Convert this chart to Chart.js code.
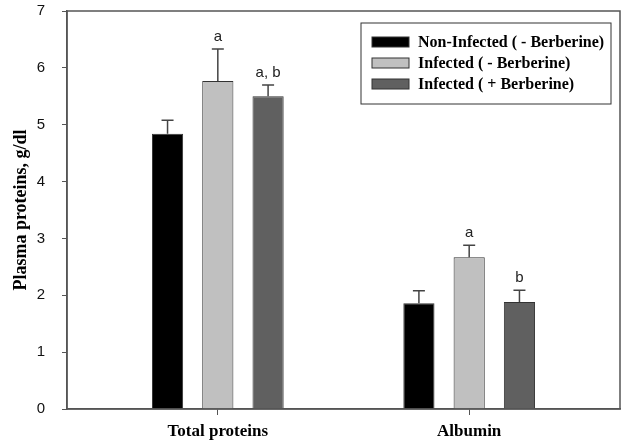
<!DOCTYPE html>
<html>
<head>
<meta charset="utf-8">
<script src="https://cdn.jsdelivr.net/npm/chart.js@4.4.1/dist/chart.umd.min.js"></script>
<style>
  html, body { margin: 0; padding: 0; background: #fff; }
  #wrap { width: 624px; height: 445px; }
</style>
</head>
<body>
<div id="wrap"><canvas id="chart"></canvas></div>
<script>
// data
const categories = ['Total proteins', 'Albumin'];
const seriesNames = ['Non-Infected ( - Berberine)', 'Infected ( - Berberine)', 'Infected ( + Berberine)'];
const nonInfected = [4.84, 1.86];
const nonInfectedErr = [0.24, 0.22];
const infected = [5.77, 2.67];
const infectedErr = [0.56, 0.21];
const treated = [5.50, 1.88];
const treatedErr = [0.20, 0.21];
const nonInfectedSig = ['', ''];
const infectedSig = ['a', 'a'];
const treatedSig = ['a, b', 'b'];
const yTicks = [0, 1, 2, 3, 4, 5, 6, 7];

const serif = '"Liberation Serif", "Times New Roman", serif';
const sans = '"Liberation Sans", Arial, sans-serif';

function toPoints(vals) {
    return vals.map((v, i) => ({x: i, y: v}));
}

const errPlugin = {
    id: 'errBars',
    afterDatasetsDraw(chart) {
        const ctx = chart.ctx;
        const yScale = chart.scales.y;
        chart.data.datasets.forEach((ds, di) => {
            const meta = chart.getDatasetMeta(di);
            meta.data.forEach((bar, i) => {
                const top = yScale.getPixelForValue(ds.data[i].y + ds.err[i]);
                ctx.save();
                ctx.strokeStyle = '#444';
                ctx.lineWidth = 1.5;
                ctx.beginPath();
                ctx.moveTo(bar.x, bar.y);
                ctx.lineTo(bar.x, top);
                ctx.moveTo(bar.x - 6, top);
                ctx.lineTo(bar.x + 6, top);
                ctx.stroke();
                if (ds.sig[i]) {
                    ctx.fillStyle = '#222';
                    ctx.font = '15px ' + sans;
                    ctx.textAlign = 'center';
                    ctx.textBaseline = 'alphabetic';
                    ctx.fillText(ds.sig[i], bar.x, top - 8);
                }
                ctx.restore();
            });
        });
    }
};

const framePlugin = {
    id: 'frame',
    afterDraw(chart) {
        const ctx = chart.ctx;
        const a = chart.chartArea;
        ctx.save();
        ctx.strokeStyle = '#555';
        ctx.lineWidth = 1.5;
        ctx.strokeRect(a.left, a.top, a.right - a.left, a.bottom - a.top);

        // legend box
        const bx = a.right - 9, by = a.top + 12;
        const left = bx - 250;
        ctx.lineWidth = 1;
        ctx.strokeStyle = '#333';
        ctx.strokeRect(left, by, 250, 81);
        ctx.font = 'bold 16px ' + serif;
        ctx.textBaseline = 'middle';
        ctx.textAlign = 'left';
        chart.data.datasets.forEach((ds, i) => {
            const cy = by + 19 + i * 21;
            ctx.fillStyle = ds.backgroundColor;
            ctx.fillRect(left + 11, cy - 5, 37, 10);
            ctx.strokeStyle = '#333';
            ctx.strokeRect(left + 11, cy - 5, 37, 10);
            ctx.fillStyle = '#000';
            ctx.fillText(ds.label, left + 57, cy + 1);
        });
        ctx.restore();
    }
};

new Chart(document.getElementById('chart'), {
    type: 'bar',
    data: {
        datasets: [
            {label: seriesNames[0], data: toPoints(nonInfected), err: nonInfectedErr, sig: nonInfectedSig, backgroundColor: '#000000'},
            {label: seriesNames[1], data: toPoints(infected), err: infectedErr, sig: infectedSig, backgroundColor: '#c0c0c0'},
            {label: seriesNames[2], data: toPoints(treated), err: treatedErr, sig: treatedSig, backgroundColor: '#606060'}
        ]
    },
    options: {
        responsive: true,
        maintainAspectRatio: false,
        animation: false,
        layout: { padding: {top: 11, right: 4, left: 0, bottom: 0} },
        datasets: {
            bar: {
                borderColor: '#333',
                borderWidth: 1,
                categoryPercentage: 0.6,
                barPercentage: 0.62
            }
        },
        scales: {
            x: {
                type: 'linear',
                min: -0.6,
                max: 1.6,
                offset: false,
                afterFit(scale) {
                    scale.height = 36;
                    scale.paddingLeft = 0;
                    scale.paddingRight = 0;
                },
                afterBuildTicks(scale) { scale.ticks = categories.map((c, i) => ({value: i})); },
                grid: { display: true, drawOnChartArea: false, drawTicks: true, tickLength: 6, color: '#555', offset: false },
                border: { display: true, color: '#555', width: 1.5 },
                ticks: {
                    autoSkip: false,
                    maxRotation: 0,
                    padding: 6,
                    color: '#000',
                    font: { family: serif, size: 17, weight: 'bold' },
                    callback: (v) => categories[v]
                }
            },
            y: {
                min: 0,
                max: 7,
                afterFit(scale) {
                    scale.width = 67;
                    scale.paddingTop = 0;
                    scale.paddingBottom = 0;
                },
                afterBuildTicks(scale) { scale.ticks = yTicks.map(v => ({value: v})); },
                grid: { display: true, drawOnChartArea: false, drawTicks: true, tickLength: 5, color: '#555' },
                border: { display: true, color: '#555', width: 1.5 },
                ticks: {
                    padding: 17,
                    color: '#111',
                    font: { family: sans, size: 15 }
                },
                title: {
                    display: true,
                    text: 'Plasma proteins, g/dl',
                    color: '#000',
                    font: { family: serif, size: 18, weight: 'bold' },
                    padding: {top: 11, bottom: 0}
                }
            }
        },
        plugins: {
            legend: { display: false },
            tooltip: { enabled: false }
        }
    },
    plugins: [errPlugin, framePlugin]
});
</script>
</body>
</html>
